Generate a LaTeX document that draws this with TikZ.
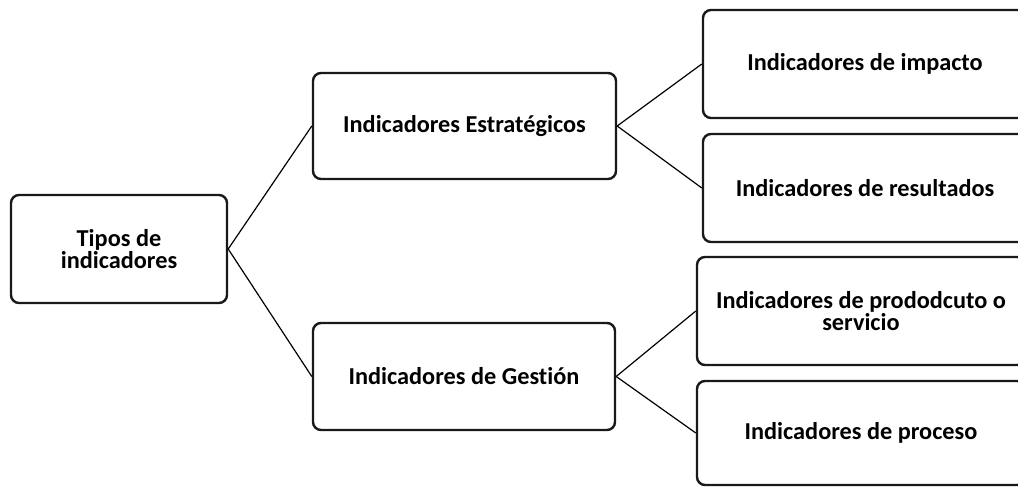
\documentclass[tikz,border=0pt]{standalone}
\usepackage{fontspec}
\setmainfont[Ligatures=NoCommon]{Carlito}
\begin{document}
\begin{tikzpicture}[x=1pt,y=-1pt,
  box/.style={draw=black!90, line width=2.4pt, rounded corners=8pt, fill=white,
    align=center, inner sep=0pt, font=\fontsize{24.3}{22}\selectfont\bfseries},
  link/.style={draw=black, line width=1.2pt}]
\useasboundingbox (0,0) rectangle (1018,487);
\clip (0,0) rectangle (1018,487);
\node[box, minimum width=216pt, minimum height=108pt] (tipos) at (119,249) {Tipos de\\indicadores};
\node[box, minimum width=303pt, minimum height=106pt] (estr) at (464.5,126) {Indicadores Estratégicos};
\node[box, minimum width=302pt, minimum height=107pt] (gest) at (464,376.5) {Indicadores de Gestión};
\node[box, minimum width=324pt, minimum height=108pt] (imp) at (865,64) {Indicadores de impacto};
\node[box, minimum width=324pt, minimum height=108pt] (res) at (865,188) {Indicadores de resultados};
\node[box, minimum width=328pt, minimum height=108pt] (prod) at (861,311) {Indicadores de prododcuto o\\servicio};
\node[box, minimum width=328pt, minimum height=104pt] (proc) at (861,433) {Indicadores de proceso};
\draw[link] (tipos.east) -- (estr.west);
\draw[link] (tipos.east) -- (gest.west);
\draw[link] (estr.east) -- (imp.west);
\draw[link] (estr.east) -- (res.west);
\draw[link] (gest.east) -- (prod.west);
\draw[link] (gest.east) -- (proc.west);
\end{tikzpicture}
\end{document}
